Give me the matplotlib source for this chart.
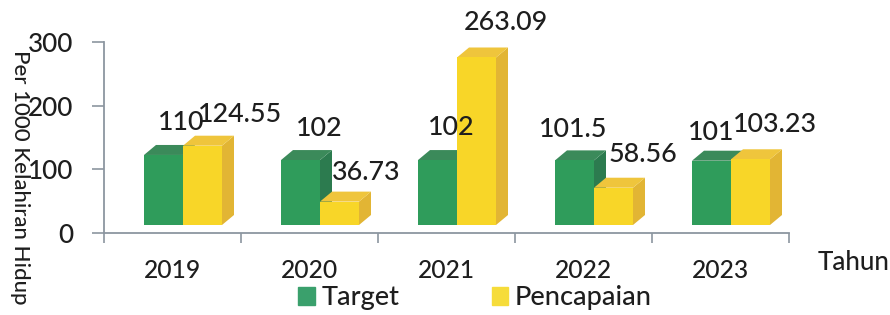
import matplotlib
matplotlib.use("Agg")
import matplotlib.pyplot as plt
from matplotlib.patches import Polygon, Patch
import numpy as np

# ---- data ----
years = ["2019", "2020", "2021", "2022", "2023"]
target = [110, 102, 102, 101.5, 101]
pencapaian = [124.55, 36.73, 263.09, 58.56, 103.23]
target_labels = ["110", "102", "102", "101.5", "101"]
pencapaian_labels = ["124.55", "36.73", "263.09", "58.56", "103.23"]
y_ticks = [0, 100, 200, 300]

# ---- layout / style ----
plt.rcParams['font.family'] = ['Lato', 'DejaVu Sans']
plt.rcParams['font.weight'] = 'medium'
TXT = "#1e1e1e"
W, H, DPI = 890, 315, 100
fig = plt.figure(figsize=(W / DPI, H / DPI), dpi=DPI)
ax = fig.add_axes([104 / W, 1 - 233 / H, (789 - 104) / W, (233 - 42) / H])

ppu = (233 - 42) / 300.0          # pixels per y unit
base = 8 / ppu                     # floor offset of bar fronts
bw = 39 / 137.0                    # front face width (x units)
ddx = 12 / 137.0                   # depth x
ddy = 10 / ppu                     # depth y

GREEN = dict(front="#2f9c5b", top="#3b8a5a", side="#2c7b4f")
YELLOW = dict(front="#f8d628", top="#efc53c", side="#e2b534")

x = np.arange(len(years))

def bar3d(xl, v, c, z):
    top = base + v
    ax.add_patch(Polygon([(xl + bw, base), (xl + bw + ddx, base + ddy),
                          (xl + bw + ddx, top + ddy), (xl + bw, top)],
                         closed=True, fc=c["side"], ec="none", zorder=z, clip_on=False))
    ax.add_patch(Polygon([(xl, top), (xl + bw, top), (xl + bw + ddx, top + ddy),
                          (xl + ddx, top + ddy)],
                         closed=True, fc=c["top"], ec="none", zorder=z, clip_on=False))
    ax.bar(xl, v, width=bw, bottom=base, align="edge", color=c["front"],
           zorder=z + 0.5, clip_on=False)

green_left = x - 0.5 + 40 / 137.0
yellow_left = green_left + bw
for i in range(len(years)):
    bar3d(green_left[i], target[i], GREEN, 2 + i * 2)
    bar3d(yellow_left[i], pencapaian[i], YELLOW, 3 + i * 2)

# label offsets in pixels (x from front centre, y of baseline above front top)
g_lab_off = [(18, 25), (19, 24), (14, 25), (-1, 23), (0, 21)]
y_lab_off = [(38, 24), (27, 22), (29, 27), (29, 26), (25, 27)]
for i in range(len(years)):
    ax.annotate(target_labels[i], (green_left[i] + bw / 2, base + target[i]),
                xytext=g_lab_off[i], textcoords="offset pixels",
                ha="center", va="baseline", fontsize=19.4, color=TXT,
                annotation_clip=False, zorder=20)
    ax.annotate(pencapaian_labels[i], (yellow_left[i] + bw / 2, base + pencapaian[i]),
                xytext=y_lab_off[i], textcoords="offset pixels",
                ha="center", va="baseline", fontsize=19.4, color=TXT,
                annotation_clip=False, zorder=20)

ax.set_xlim(-0.5, len(years) - 0.5)
ax.set_ylim(0, 300)
ax.set_yticks(y_ticks)
ax.set_yticklabels([str(t) for t in y_ticks], fontsize=18.8, color=TXT)
ax.set_xticks(x)
ax.set_xticklabels(years, fontsize=17.7, color=TXT)
ax.set_xticks(np.arange(len(years) + 1) - 0.5, minor=True)
ax.tick_params(axis="x", which="major", length=0, pad=19)
ax.tick_params(axis="x", which="minor", length=7, width=1.2, color="#8c96a0", direction="out")
ax.tick_params(axis="y", length=9, width=1.2, color="#8c96a0", pad=13, direction="out")
for s in ["top", "right"]:
    ax.spines[s].set_visible(False)
for s in ["left", "bottom"]:
    ax.spines[s].set_color("#8c96a0")
    ax.spines[s].set_linewidth(1.3)

fig.text(20 / W, 1 - 177 / H, "Per 1000 Kelahiran Hidup", rotation=270,
         ha="center", va="center", fontsize=16, color=TXT)
fig.text(818 / W, 1 - 270 / H, "Tahun", ha="left", va="baseline",
         fontsize=18.7, color=TXT)

handles = [Patch(color="#3aa06c", label="Target"),
           Patch(color="#f6dc3a", label="Pencapaian")]
fig.legend(handles=handles, loc="center", bbox_to_anchor=(475 / W, 1 - 298 / H),
           ncol=2, frameon=False, fontsize=19.5, handlelength=0.6, handleheight=0.6,
           handletextpad=0.25, columnspacing=3.4, labelcolor=TXT,
           borderaxespad=0, borderpad=0)

fig.savefig("out.png", dpi=DPI)
